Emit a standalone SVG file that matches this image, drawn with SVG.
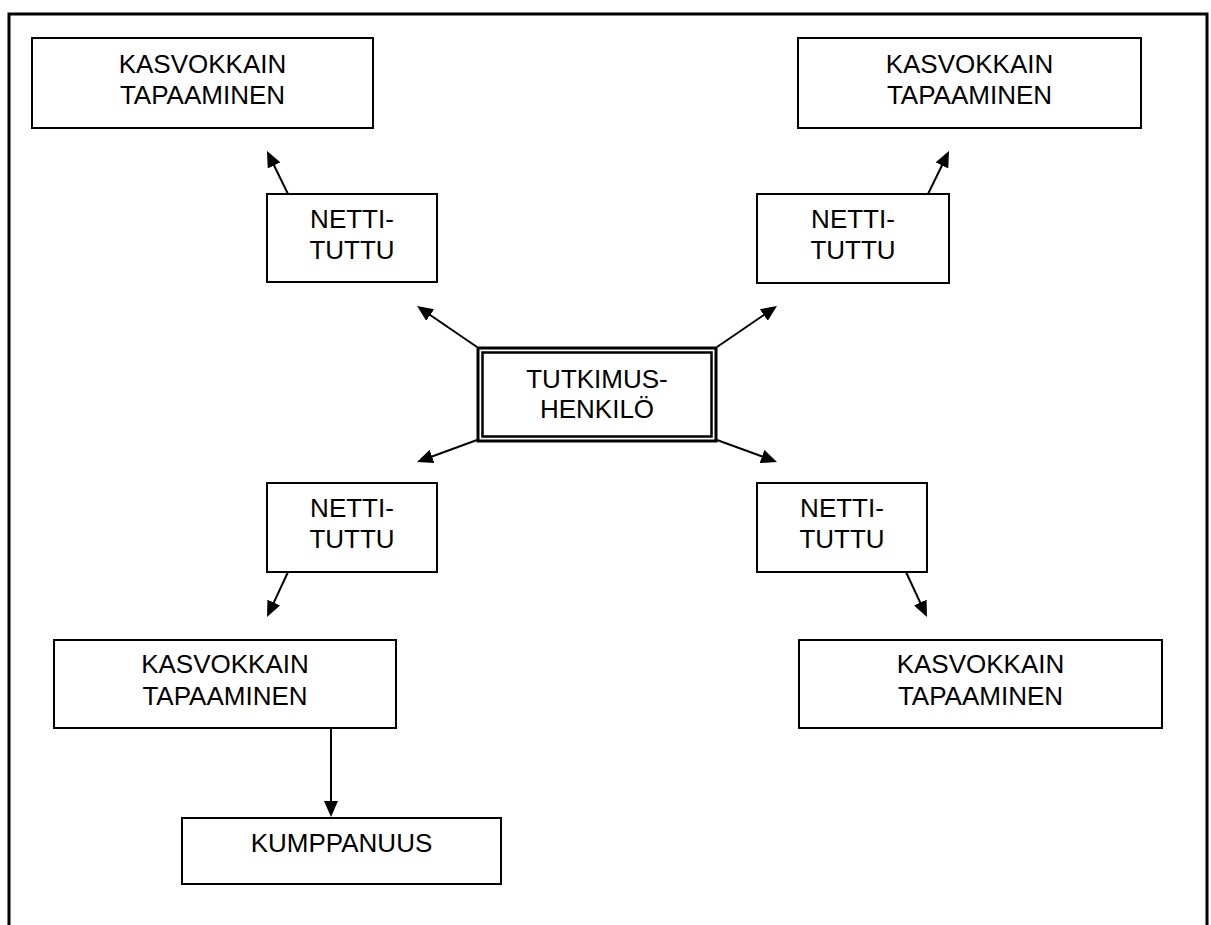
<svg xmlns="http://www.w3.org/2000/svg" width="1211" height="925" viewBox="0 0 1211 925">
<style>
.box{fill:#fff;stroke:#000;stroke-width:2}
.lbl{font-family:"Liberation Sans",Arial,sans-serif;font-size:26px;fill:#000;text-anchor:middle}
.arr{stroke:#000;stroke-width:2;fill:none;marker-end:url(#ah)}
</style>
<defs>
<marker id="ah" markerUnits="userSpaceOnUse" markerWidth="16" markerHeight="14" refX="8" refY="7" orient="auto" viewBox="0 0 16 14">
<path d="M0,0 L16,7 L0,14 z" fill="#000"/>
</marker>
</defs>
<rect width="1211" height="925" fill="#fff"/>
<path d="M9,925 V14 H1207 V925" fill="none" stroke="#000" stroke-width="3"/>
<g id="connectors">
<line class="arr" x1="288" y1="194" x2="270.5" y2="158.2"/>
<line class="arr" x1="928" y1="194" x2="945.5" y2="158.2"/>
<line class="arr" x1="477" y1="347" x2="423.6" y2="310.5"/>
<line class="arr" x1="717" y1="347" x2="770.4" y2="310.5"/>
<line class="arr" x1="477" y1="440" x2="424.5" y2="459.2"/>
<line class="arr" x1="717" y1="440" x2="769.5" y2="459.2"/>
<line class="arr" x1="288" y1="572" x2="270.4" y2="609.8"/>
<line class="arr" x1="906" y1="572" x2="923.6" y2="609.8"/>
<line class="arr" x1="331" y1="728" x2="331" y2="809"/>
</g>
<g id="kasvokkain-tl">
<rect class="box" x="32" y="38" width="341" height="90"/>
<text class="lbl" x="202.5" y="73">KASVOKKAIN</text>
<text class="lbl" x="202.5" y="104">TAPAAMINEN</text>
</g>
<g id="kasvokkain-tr">
<rect class="box" x="798" y="38" width="343" height="90"/>
<text class="lbl" x="969.5" y="73">KASVOKKAIN</text>
<text class="lbl" x="969.5" y="104">TAPAAMINEN</text>
</g>
<g id="netti-tl">
<rect class="box" x="267" y="194" width="170" height="88"/>
<text class="lbl" x="352" y="228">NETTI-</text>
<text class="lbl" x="352" y="259">TUTTU</text>
</g>
<g id="netti-tr">
<rect class="box" x="757" y="194" width="192" height="89"/>
<text class="lbl" x="853" y="228">NETTI-</text>
<text class="lbl" x="853" y="259">TUTTU</text>
</g>
<g id="tutkimushenkilo">
<rect x="478" y="348" width="238" height="93" fill="#fff" stroke="#000" stroke-width="3"/>
<rect x="482.5" y="352.5" width="229" height="84" fill="none" stroke="#000" stroke-width="2.5"/>
<text class="lbl" x="597" y="388">TUTKIMUS-</text>
<text class="lbl" x="597" y="418">HENKILÖ</text>
</g>
<g id="netti-bl">
<rect class="box" x="267" y="483" width="170" height="89"/>
<text class="lbl" x="352" y="517">NETTI-</text>
<text class="lbl" x="352" y="548">TUTTU</text>
</g>
<g id="netti-br">
<rect class="box" x="757" y="483" width="170" height="89"/>
<text class="lbl" x="842" y="517">NETTI-</text>
<text class="lbl" x="842" y="548">TUTTU</text>
</g>
<g id="kasvokkain-bl">
<rect class="box" x="54" y="640" width="342" height="88"/>
<text class="lbl" x="225" y="673">KASVOKKAIN</text>
<text class="lbl" x="225" y="705">TAPAAMINEN</text>
</g>
<g id="kasvokkain-br">
<rect class="box" x="799" y="640" width="363" height="88"/>
<text class="lbl" x="980.5" y="673">KASVOKKAIN</text>
<text class="lbl" x="980.5" y="705">TAPAAMINEN</text>
</g>
<g id="kumppanuus">
<rect class="box" x="182" y="818" width="319" height="66"/>
<text class="lbl" x="341.5" y="852">KUMPPANUUS</text>
</g>
</svg>
